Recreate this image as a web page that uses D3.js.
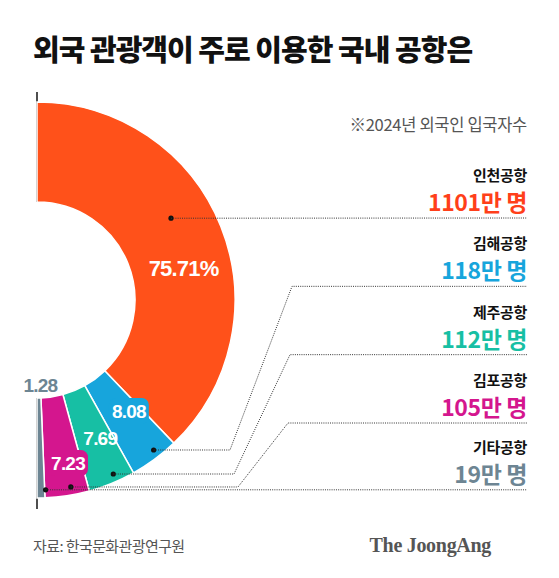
<!DOCTYPE html>
<html>
<head>
<meta charset="utf-8">
<script src="https://cdn.jsdelivr.net/npm/d3@7"></script>
<style>
  body { margin: 0; background: #fff; }
  svg { font-family: "Noto Sans CJK KR", "Noto Sans", sans-serif; }
</style>
</head>
<body>
<div id="chart"></div>
<script>
// data
const airports = ["인천공항", "김해공항", "제주공항", "김포공항", "기타공항"];
const visitors = [1101, 118, 112, 105, 19];           // 만 명
const shares = [75.71, 8.08, 7.69, 7.23, 1.28];       // %
const colors = ["#ff511a", "#17a5dc", "#17bfa4", "#d4168e", "#6d8593"];
const valueColors = ["#ff3f1a", "#17a5dc", "#17bfa4", "#d4168e", "#6d8593"];

const width = 559, height = 578;
const cx = 37, cy = 300;
const outerR = 198, innerR = 98;
const lineEnd = 527;

const svg = d3.select("#chart")
  .append("svg")
  .attr("width", width)
  .attr("height", height);

// title
svg.append("text")
  .attr("x", 33)
  .attr("y", 61)
  .attr("font-size", "29px")
  .attr("font-weight", 900)
  .attr("letter-spacing", "-1px")
  .attr("fill", "#111")
  .text("외국 관광객이 주로 이용한 국내 공항은");

svg.append("text")
  .attr("x", lineEnd)
  .attr("y", 131)
  .attr("text-anchor", "end")
  .attr("font-size", "16.5px")
  .attr("letter-spacing", "-0.3px")
  .attr("fill", "#555")
  .text("※2024년 외국인 입국자수");

// half donut
const data = airports.map((name, i) => ({ name, visitors: visitors[i], share: shares[i], i }));

const pie = d3.pie()
  .sort(null)
  .startAngle(0)
  .endAngle(Math.PI)
  .value(d => d.share);

const arcs = pie(data);

const arc = d3.arc()
  .innerRadius(innerR)
  .outerRadius(outerR);

const g = svg.append("g")
  .attr("transform", "translate(" + cx + "," + cy + ")");

// axis line on the left edge
g.append("line")
  .attr("x1", 0).attr("x2", 0)
  .attr("y1", -outerR - 10).attr("y2", -innerR)
  .attr("stroke", "#222").attr("stroke-width", 1.6);
g.append("line")
  .attr("x1", 0).attr("x2", 0)
  .attr("y1", innerR).attr("y2", outerR + 11)
  .attr("stroke", "#222").attr("stroke-width", 1.6);

g.selectAll("path")
  .data(arcs)
  .enter()
  .append("path")
  .attr("d", arc)
  .attr("fill", d => colors[d.data.i])
  .attr("stroke", "#fff")
  .attr("stroke-width", 1.5);

// point at angle/radius, relative to centre
function polar(a, r) {
  return [r * Math.sin(a), -r * Math.cos(a)];
}

// row lines on the right
const rowScale = d3.scalePoint()
  .domain(airports.slice(0, 4))
  .range([218, 423]);

// dots
const dots = arcs.map((d, i) => {
  if (i === 0) {
    const a = d.startAngle + 0.43 * (d.endAngle - d.startAngle);
    return polar(a, 157);
  }
  const a = (d.startAngle + d.endAngle) / 2 - 0.025;
  return polar(a, 190);
});

const rowY = airports.map((name, i) => i < 4 ? rowScale(name) : cy + dots[i][1]);

const leaders = svg.append("g")
  .attr("fill", "none")
  .attr("stroke", "#333")
  .attr("stroke-width", 1)
  .attr("stroke-dasharray", "1,1.2");

arcs.forEach((d, i) => {
  const x0 = cx + dots[i][0], y0 = cy + dots[i][1];
  let pts;
  if (i === 0 || i === 4) {
    pts = [[x0, y0], [lineEnd, rowY[i]]];
  } else {
    pts = [[x0, y0], [230 + (i - 1) * 4, y0], [292 - (i - 1) * 2, rowY[i]], [lineEnd, rowY[i]]];
  }
  leaders.append("path").attr("d", d3.line()(pts));
});

g.selectAll("circle")
  .data(dots)
  .enter()
  .append("circle")
  .attr("cx", d => d[0])
  .attr("cy", d => d[1])
  .attr("r", 2.6)
  .attr("fill", "#111");

// percent labels
const labelPos = arcs.map((d, i) => {
  const span = d.endAngle - d.startAngle;
  if (i === 0) return polar(d.startAngle + 0.57 * span, 150);
  if (i === 1) return polar(d.startAngle + 0.28 * span, 144);
  if (i === 2) return polar(d.startAngle + 0.33 * span, 152);
  if (i === 3) return polar(d.startAngle + 0.35 * span, 166);
  return polar(d.startAngle, 85);
});

const labels = g.selectAll(".pct")
  .data(arcs)
  .enter()
  .append("g")
  .attr("class", "pct")
  .attr("transform", (d, i) => "translate(" + labelPos[i][0] + "," + labelPos[i][1] + ")");

// rounded backgrounds for labels that cross a slice edge
labels.filter((d, i) => i === 1 || i === 3)
  .append("rect")
  .attr("x", -20).attr("y", -13)
  .attr("width", 40).attr("height", 26)
  .attr("rx", 7)
  .attr("fill", d => colors[d.data.i]);

labels.append("text")
  .attr("text-anchor", "middle")
  .attr("dy", "0.36em")
  .style("font-family", "'Liberation Sans', Arial, sans-serif")
  .attr("font-weight", 700)
  .attr("font-size", (d, i) => i === 0 ? "22px" : "19px")
  .attr("letter-spacing", "-0.8px")
  .attr("fill", (d, i) => i === 4 ? colors[4] : "#fff")
  .text((d, i) => i === 0 ? d.data.share.toFixed(2) + "%" : d.data.share.toFixed(2));

// right labels
const rows = svg.append("g")
  .selectAll("g")
  .data(data)
  .enter()
  .append("g")
  .attr("transform", (d, i) => "translate(" + lineEnd + "," + rowY[i] + ")");

rows.append("text")
  .attr("y", -37)
  .attr("text-anchor", "end")
  .attr("font-size", "15px")
  .attr("font-weight", 700)
  .attr("letter-spacing", "-0.3px")
  .attr("fill", "#111")
  .text(d => d.name);

rows.append("text")
  .attr("y", -7)
  .attr("text-anchor", "end")
  .attr("font-size", "23px")
  .attr("font-weight", 700)
  .attr("letter-spacing", "-0.4px")
  .attr("fill", d => valueColors[d.i])
  .text(d => d.visitors + "만 명");

// footer
svg.append("text")
  .attr("x", 33)
  .attr("y", 552)
  .attr("font-size", "15px")
  .attr("letter-spacing", "-0.6px")
  .attr("fill", "#555")
  .text("자료: 한국문화관광연구원");

svg.append("text")
  .attr("x", 491)
  .attr("y", 552)
  .attr("text-anchor", "end")
  .style("font-family", "'Liberation Serif', 'DejaVu Serif', serif")
  .attr("font-size", "20px")
  .attr("font-weight", 700)
  .attr("letter-spacing", "-0.3px")
  .attr("fill", "#555")
  .text("The JoongAng");
</script>
</body>
</html>
